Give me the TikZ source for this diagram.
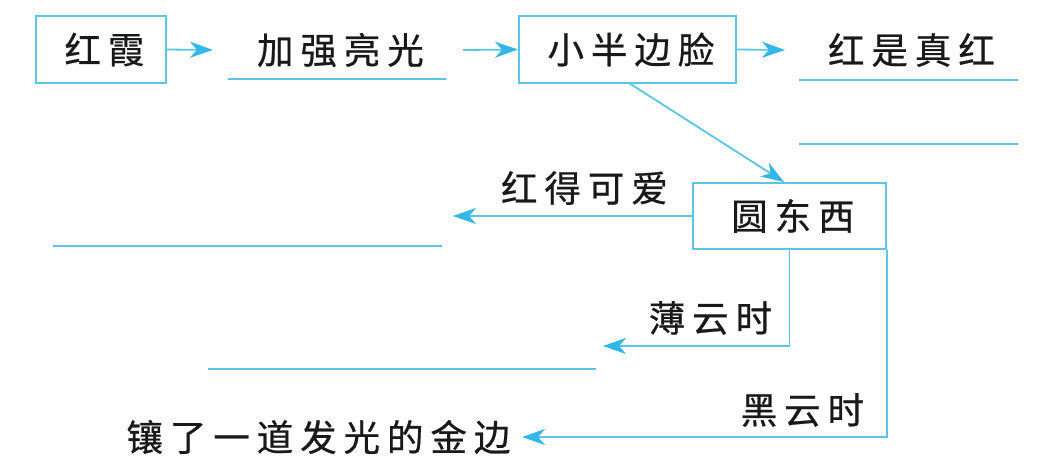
\documentclass[tikz,border=0pt]{standalone}
\usepackage{fontspec}
\newfontfamily\cjk[LetterSpace=19,FakeBold=0.6]{Noto Sans CJK SC}
\usetikzlibrary{arrows.meta}
\definecolor{ln}{RGB}{90,198,228}
\definecolor{ah}{RGB}{50,183,232}
\definecolor{tx}{RGB}{25,25,25}
\newcommand{\T}[1]{#1\kern-6.9pt}
\begin{document}
\begin{tikzpicture}[x=1pt,y=-1pt,
  box/.style={draw=ln,line width=2pt,minimum height=67pt,inner sep=0pt,
    font=\cjk\fontsize{36.5}{40}\selectfont,text=tx},
  lbl/.style={font=\cjk\fontsize{36.5}{40}\selectfont,text=tx,inner sep=0pt},
  conn/.style={draw=ln,line width=1.8pt,
    -{Stealth[length=23pt,width=16pt,inset=7pt,color=ah]}},
  blank/.style={draw=ln,line width=1.4pt}]
\useasboundingbox (0,0) rectangle (1040,472);
\fill[white] (0,0) rectangle (1040,472);

% nodes
\node[box,minimum width=130pt] (hx) at (101,49.5) {\T{红霞}};
\node[lbl] (jq) at (337,50) {\T{加强亮光}};
\node[box,minimum width=217pt] (xb) at (627.5,49.5) {\T{小半边脸}};
\node[lbl] (hs) at (908,50) {\T{红是真红}};
\node[box,minimum width=193pt,minimum height=66pt] (yd) at (789.5,216) {\T{圆东西}};
\node[lbl] (hk) at (581,188) {\T{红得可爱}};
\node[lbl] (bys) at (707,318) {\T{薄云时}};
\node[lbl] (hys) at (799,410) {\T{黑云时}};
\node[lbl] (xl) at (315,437) {\T{镶了一道发光的金边}};

% free ends
\coordinate (a1) at (213,50);
\coordinate (a2s) at (463,50);
\coordinate (a3) at (785,50);
\coordinate (ds) at (629,83);
\coordinate (de) at (784,182);
\coordinate (a4) at (453,216);
\coordinate (a5) at (603,346);
\coordinate (a6) at (522,437);

% connectors
\draw[conn] (hx.east) -- (a1);
\draw[conn] (a2s) -- (xb.west);
\draw[conn] (xb.east) -- (a3);
\draw[conn] (ds) -- (de);
\draw[conn] (yd.west) -- (a4);
\draw[conn] (yd.south) |- (a5);
\draw[conn] (yd.south east) |- (a6);

% answer lines
\draw[blank] (228,79) -- (446,79);
\draw[blank] (799,80) -- (1018,80);
\draw[blank] (799,144) -- (1018,144);
\draw[blank] (53,246) -- (442,246);
\draw[blank] (208,369) -- (596,369);
\end{tikzpicture}
\end{document}
